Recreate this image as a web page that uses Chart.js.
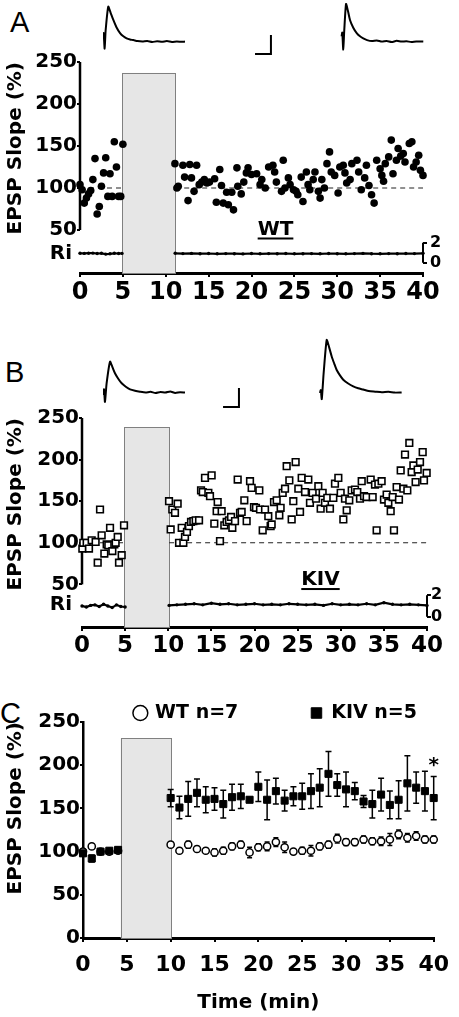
<!DOCTYPE html>
<html>
<head>
<meta charset="utf-8">
<script src="https://cdn.jsdelivr.net/npm/chart.js@4/dist/chart.umd.min.js"></script>
<style>
  html, body { margin:0; padding:0; background:#fff; }
  body { width:459px; height:1017px; position:relative; overflow:hidden; }
  canvas { position:absolute; }
  .letter { position:absolute; font-family:"Liberation Sans", Arial, sans-serif; font-size:29px; line-height:1; color:#000; }
</style>
</head>
<body>
<div class="letter" style="left:10px;top:8px">A</div>
<div class="letter" style="left:5px;top:358px">B</div>
<div class="letter" style="left:0px;top:699px">C</div>

<canvas id="traceA" width="328" height="60" style="left:103px;top:0px"></canvas>
<canvas id="chartA" width="459" height="280" style="left:0px;top:30px"></canvas>
<canvas id="traceB" width="328" height="80" style="left:103px;top:330px"></canvas>
<canvas id="chartB" width="459" height="260" style="left:0px;top:400px"></canvas>
<canvas id="chartC" width="459" height="357" style="left:0px;top:660px"></canvas>

<script>
// ---------- A: WT slice, EPSP slope (%) vs time (min) ----------
const wtTime = [0,0.25,0.5,0.75,1,1.25,1.5,1.75,2,2.25,2.5,2.75,3,3.25,3.5,3.75,4,4.25,4.5,4.75,5,
  11.07,11.3,11.46,12.0,12.2,12.6,12.8,13.0,13.3,13.6,13.9,14.2,14.5,14.8,15.1,15.7,15.9,16.3,16.5,16.7,
  17.1,17.3,17.7,17.9,18.3,18.4,18.8,19.1,19.4,19.6,20.0,20.6,21.0,21.2,21.6,22.0,22.5,22.7,22.9,23.5,
  23.7,23.9,24.3,24.5,24.9,25.2,25.4,25.8,26.0,26.4,26.6,26.8,27.2,27.4,27.8,28.0,28.2,28.5,28.8,29.1,
  29.3,29.7,30.1,30.3,30.7,30.9,31.1,31.5,31.7,32.3,32.5,32.8,33.2,33.4,33.7,34.0,34.3,34.6,35.0,35.2,
  35.4,35.6,36.0,36.3,36.5,36.9,37.1,37.4,37.7,37.9,38.4,38.7,38.9,39.2,39.5,39.7,40.0];
const wtSlope = [104,98,82,88,93,97,110,135,69,78,102,118,136,90,117,90,155,125,90,90,152,
  129,100,102,127,113,85,128,112,96,127,104,107,110,106,107,111,83,122,103,82,
  95,80,95,74,124,102,93,107,118,124,116,117,104,110,100,125,127,119,107,96,
  133,100,112,104,98,96,92,113,84,119,104,98,110,119,96,88,110,100,129,143,
  119,115,94,125,127,118,106,110,129,133,119,98,112,127,103,92,82,133,123,115,
  108,129,137,157,117,133,147,138,141,131,153,155,125,131,139,121,115];
const riTimeA = [0,0.5,1,1.5,2,2.5,3,3.5,4,4.5,4.9, 8,
  11.1,12,13,14,15,16,17,18,19,20,21,22,23,24,25,26,27,28,29,30,31,32,33,34,35,36,37,38,39,40];
const riA = [0.95,0.94,0.96,0.97,0.93,0.95,0.87,0.9,0.95,0.93,0.94, null,
  0.95,0.92,0.94,0.91,0.93,0.9,0.92,0.91,0.89,0.93,0.9,0.92,0.91,0.93,0.9,0.91,0.92,0.9,0.93,0.91,
  0.9,0.92,0.94,0.91,0.9,0.92,0.91,0.93,0.92,0.95];
const stimA = [4.9, 11.1, 237];   // induction window (min) and box height (%)

// ---------- B: KIV slice ----------
const kivTime = [0.04,0.15,0.54,0.81,1.12,1.58,1.82,2.09,2.28,2.59,2.86,3.05,3.25,3.52,3.75,3.9,4.14,4.29,4.6,4.87,
  10.09,10.28,10.47,10.78,11.09,11.25,11.56,11.75,11.94,12.17,12.4,12.64,12.91,13.18,13.57,13.8,14.0,14.26,
  14.65,14.84,15.03,15.34,15.61,15.73,16.0,16.19,16.5,16.77,17.04,17.28,17.43,17.74,18.05,18.32,18.51,18.82,
  19.09,19.48,19.67,19.94,20.17,20.56,20.64,20.95,21.22,21.6,21.87,21.99,22.26,22.57,22.88,23.03,23.27,23.54,
  23.73,24.04,24.31,24.5,24.77,25.08,25.28,25.47,25.86,26.24,26.43,26.74,27.13,27.4,27.67,27.9,28.17,28.44,
  28.75,29.14,29.33,29.72,29.99,30.3,30.49,30.69,30.99,31.27,31.65,31.92,32.23,32.43,32.7,33.0,33.47,33.7,
  33.97,34.16,34.36,34.74,35.01,35.32,35.52,35.79,36.02,36.17,36.48,36.75,36.95,37.26,37.45,37.72,37.95,
  38.22,38.42,38.68,38.92,39.19,39.5,39.65,39.96];
const kivSlope = [93,100,100,93,103,101,76,140,109,87,98,97,118,90,98,100,107,76,85,121,
  150,116,140,136,147,100,118,100,107,113,120,125,126,127,127,163,161,178,
  160,156,181,123,138,149,102,138,121,125,127,131,118,126,176,136,137,151,
  126,174,166,143,142,163,140,115,140,132,120,122,149,151,133,142,160,165,
  192,175,128,150,197,165,137,178,161,176,148,160,153,168,141,160,148,154,
  141,154,171,178,160,128,153,139,151,163,164,161,153,174,156,155,176,155,
  170,115,171,174,152,158,148,138,155,115,167,152,187,165,206,163,220,
  185,193,173,188,197,209,175,184];
const riTimeB = [0,0.5,1,1.5,2,2.5,3,3.5,4,4.5,5, 7.5,
  10.1,11,12,13,14,15,16,17,18,19,20,21,22,23,24,25,26,27,28,29,30,31,32,33,34,35,36,37,38,39,40];
const riB = [1.0,0.9,1.05,1.1,0.95,1.15,1.0,0.85,1.1,0.95,0.9, null,
  1.05,1.1,1.15,1.2,1.1,1.25,1.15,1.2,1.1,1.15,1.2,1.1,1.15,1.1,1.2,1.15,1.1,1.15,1.05,1.2,1.1,
  1.15,1.1,1.2,1.1,1.3,1.15,1.1,1.15,1.1,1.05];
const stimB = [4.9, 10.1, 239];

// ---------- C: group means +/- SEM ----------
const meanTime = [0,1,2,3,4,10,11,12,13,14,15,16,17,18,19,20,21,22,23,24,25,26,27,28,29,30,31,32,33,34,35,36,37,38,39,40];
const wtMean = [100,106,100,100,101,108,101,108,103,101,99,101,106,108,99,105,106,111,105,100,101,101,106,108,115,111,111,114,112,112,114,120,116,118,114,114];
const wtSem  = [3,3,2,2,2,3,3,4,3,3,4,4,4,4,6,4,5,5,6,3,4,6,4,4,5,4,4,4,4,5,7,5,5,5,4,4];
const kivMean = [98,92,100,101,102,162,151,161,168,160,161,155,163,164,160,175,160,170,159,164,164,170,174,190,177,172,170,158,155,166,154,160,179,174,170,162];
const kivSem  = [3,4,3,2,3,10,13,20,16,15,13,16,15,14,3,17,23,15,12,11,15,20,22,26,13,20,10,7,16,19,16,22,32,18,23,25];
const stimC = [4.3, 10.05, 231];

const slopeTicks = [50,100,150,200,250];
const riTicks = [0,2];
const baselinePct = 100;

// ---------- example sweeps (ms, mV) ----------
const traceA1T = [0,0.4,1.0,1.6,3.2,4.6,6.3,8.2,10.4,12.4,14.4,16.5,18.5,21,24,27,30,33,36,39,42,45,48,50];
const traceA1V = [0.3,0.47,-0.35,0.6,1.86,1.55,1.16,0.78,0.47,0.3,0.19,0.13,0.1,0.05,0.03,0.05,0.0,0.04,0.01,0.05,0.0,0.03,0.01,0.02];
const traceA2T = [145.5,145.9,146.5,147.1,148.2,149.4,150.6,152.6,154.7,156.7,158.7,161,164,167,170,173,176,179,182,185,188,191,195.3];
const traceA2V = [0.3,0.5,-0.4,0.6,2.0,1.62,1.16,0.75,0.47,0.3,0.19,0.1,0.05,0.08,0.02,0.05,0.0,0.06,0.02,0.04,0.0,0.03,0.02];
const barAT = [92.7,102.4,102.4];
const barAV = [-0.63,-0.63,0.37];
const traceB1T = [0,0.6,1.2,2.2,4.3,5.8,7.3,9.3,11.4,13.9,16.5,19.5,22.6,26,29,32,35,38,41,44,47,50];
const traceB1V = [-0.1,0.2,-0.47,0.5,1.65,1.35,1.04,0.75,0.51,0.33,0.19,0.12,0.07,0.03,0.06,0.0,0.05,0.02,0.08,0.0,0.04,0.02];
const traceB2T = [132.3,132.8,133.4,134.5,136.4,137.9,139.5,141,142.5,144.5,146.5,149.5,152.6,155.6,158.7,162,166,170,174,178,182.1];
const traceB2V = [0.0,0.15,-0.32,1.0,2.79,2.4,1.91,1.55,1.21,0.93,0.7,0.5,0.35,0.25,0.18,0.1,0.07,0.04,0.06,0.02,0.03];
const barBT = [73.2,82.9,82.9];
const barBV = [-0.74,-0.74,0.26];

Chart.defaults.font.family = '"DejaVu Sans", sans-serif';
Chart.defaults.color = '#000';

const pts = (xs, ys) => xs.map((x, i) => ({ x, y: ys[i] }));
const fixedTicks = vals => s => { s.ticks = vals.map(v => ({ value: v })); };

// draws the induction box, error bars, partial axis lines and in-plot labels
function decor(cfg) {
  return {
    id: 'decor',
    beforeDatasetsDraw(chart) {
      const { ctx, chartArea, scales } = chart;
      const xs = scales.x, ys = scales.y;
      ctx.save();
      if (cfg.stim) {
        const x0 = xs.getPixelForValue(cfg.stim[0]), x1 = xs.getPixelForValue(cfg.stim[1]);
        const y0 = ys.getPixelForValue(cfg.stim[2]);
        ctx.fillStyle = '#e6e6e6';
        ctx.fillRect(x0, y0, x1 - x0, chartArea.bottom - y0);
        ctx.strokeStyle = '#808080'; ctx.lineWidth = 1;
        ctx.strokeRect(Math.round(x0) + 0.5, Math.round(y0) + 0.5, Math.round(x1 - x0), chartArea.bottom - Math.round(y0));
      }
      (cfg.errors || []).forEach(e => {
        ctx.strokeStyle = '#000'; ctx.lineWidth = 1.5;
        e.time.forEach((t, i) => {
          const x = xs.getPixelForValue(t);
          const hi = ys.getPixelForValue(e.mean[i] + e.sem[i]);
          const lo = ys.getPixelForValue(e.mean[i] - e.sem[i]);
          ctx.beginPath();
          ctx.moveTo(x, hi); ctx.lineTo(x, lo);
          ctx.moveTo(x - e.cap, hi); ctx.lineTo(x + e.cap, hi);
          ctx.moveTo(x - e.cap, lo); ctx.lineTo(x + e.cap, lo);
          ctx.stroke();
        });
      });
      (cfg.spans || []).forEach(s => {
        const sc = scales[s.axis];
        const x = s.axis === 'y' ? sc.right : sc.left;
        ctx.strokeStyle = '#000'; ctx.lineWidth = s.width;
        ctx.beginPath();
        ctx.moveTo(x, sc.getPixelForValue(s.from));
        ctx.lineTo(x, sc.getPixelForValue(s.to));
        ctx.stroke();
      });
      ctx.restore();
    },
    afterDatasetsDraw(chart) {
      const { ctx, scales } = chart;
      ctx.save();
      (cfg.texts || []).forEach(t => {
        const px = scales.x.getPixelForValue(t.x);
        const py = scales[t.axis || 'y'].getPixelForValue(t.y);
        ctx.font = 'bold ' + t.size + 'px "DejaVu Sans"';
        ctx.fillStyle = '#000';
        ctx.textAlign = t.align || 'center';
        ctx.textBaseline = 'middle';
        ctx.fillText(t.text, px, py);
        if (t.underline) {
          const w = ctx.measureText(t.text).width;
          ctx.fillRect(px - w / 2, py + 8, w, 2);
        }
      });
      ctx.restore();
    }
  };
}

function traceChart(id, yMin, yMax, series) {
  return new Chart(document.getElementById(id), {
    type: 'scatter',
    data: {
      datasets: series.map(s => ({
        data: pts(s[0], s[1]), showLine: true, borderColor: '#000', borderWidth: 2,
        pointRadius: 0, tension: s[2], clip: false
      }))
    },
    options: {
      responsive: false, animation: false,
      layout: { padding: 0 },
      plugins: { legend: { display: false }, tooltip: { enabled: false } },
      scales: {
        x: { type: 'linear', display: false, min: 0, max: 200, bounds: 'data' },
        y: { display: false, min: yMin, max: yMax, bounds: 'data' }
      }
    }
  });
}

function slopePanel(id, o) {
  const baseT = [0, o.stim[0], o.stim[0], o.stim[1], 40];
  const baseV = [baselinePct, baselinePct, null, baselinePct, baselinePct];
  return new Chart(document.getElementById(id), {
    type: 'scatter',
    data: {
      datasets: [
        Object.assign({ label: o.label, data: pts(o.time, o.slope), clip: false }, o.marker),
        { label: 'Ri', data: pts(o.riTime, o.ri), yAxisID: 'y2', showLine: true, spanGaps: false,
          borderColor: '#000', borderWidth: 2.2, pointRadius: 1.7, pointBackgroundColor: '#000',
          pointBorderWidth: 0, clip: false },
        { label: 'baseline', data: pts(baseT, baseV), showLine: true, spanGaps: false,
          borderColor: '#222', borderWidth: 1.2, borderDash: [5, 4], pointRadius: 0 }
      ]
    },
    plugins: [decor({
      stim: o.stim,
      spans: [{ axis: 'y', from: 50, to: 250, width: 2.5 }, { axis: 'y2', from: 0, to: 2, width: 2 }],
      texts: o.texts
    })],
    options: {
      responsive: false, animation: false,
      layout: { padding: { top: o.padTop, left: 0, right: 0, bottom: 0 } },
      plugins: { legend: { display: false }, tooltip: { enabled: false } },
      scales: {
        x: {
          type: 'linear', min: 0, max: 40, bounds: 'data',
          ticks: { stepSize: 5, font: { size: o.xFont, weight: 'bold' }, padding: 1, maxRotation: 0, autoSkip: false },
          grid: { drawOnChartArea: false, tickLength: 4, color: '#000', lineWidth: 2 },
          border: { display: true, color: '#000', width: 3 },
          afterFit: s => { s.height = o.xHeight; }
        },
        y: {
          min: o.yMin, max: 250, bounds: 'data',
          afterBuildTicks: fixedTicks(slopeTicks),
          ticks: { font: { size: 20, weight: 'bold' }, padding: 0 },
          grid: { drawOnChartArea: false, tickLength: 3, color: '#000', lineWidth: 2 },
          border: { display: false },
          title: { display: true, text: 'EPSP Slope (%)', align: 'end', font: { size: 20, weight: 'bold' }, padding: { top: 4, bottom: 0 } },
          afterFit: s => { s.width = o.yWidth; }
        },
        y2: {
          position: 'right', min: o.riMin, max: o.riMax, bounds: 'data',
          afterBuildTicks: fixedTicks(riTicks),
          ticks: { font: { size: 16, weight: 'bold' }, padding: o.riPad },
          grid: { drawOnChartArea: false, tickLength: 4, color: '#000', lineWidth: 2 },
          border: { display: false },
          afterFit: s => { s.width = o.y2Width; }
        }
      }
    }
  });
}

traceChart('traceA', -0.947, 2.21, [[traceA1T, traceA1V, 0.2], [traceA2T, traceA2V, 0.2], [barAT, barAV, 0]]);
traceChart('traceB', -0.895, 3.316, [[traceB1T, traceB1V, 0.2], [traceB2T, traceB2V, 0.2], [barBT, barBV, 0]]);

slopePanel('chartA', {
  label: 'WT', time: wtTime, slope: wtSlope, riTime: riTimeA, ri: riA, stim: stimA,
  marker: { pointStyle: 'circle', pointRadius: 3.8, backgroundColor: '#000', borderColor: '#000', borderWidth: 0 },
  padTop: 32, xHeight: 37, yWidth: 80, y2Width: 36, yMin: -1.19, riMin: -1.02, riMax: 20.08, riPad: 3, xFont: 24,
  texts: [
    { text: 'Ri', x: -0.93, y: 0.9, axis: 'y2', align: 'right', size: 20 },
    { text: 'WT', x: 22.8, y: 50.6, size: 20, underline: true }
  ]
});

slopePanel('chartB', {
  label: 'KIV', time: kivTime, slope: kivSlope, riTime: riTimeB, ri: riB, stim: stimB,
  marker: { pointStyle: 'rect', pointRadius: 4.7, backgroundColor: '#fff', borderColor: '#000', borderWidth: 1.6 },
  padTop: 18, xHeight: 33, yWidth: 82, y2Width: 32, yMin: -1.26, riMin: -0.95, riMax: 18.4, riPad: 0, xFont: 23,
  texts: [
    { text: 'Ri', x: -1.16, y: 1.1, axis: 'y2', align: 'right', size: 20 },
    { text: 'KIV', x: 27.65, y: 55.2, size: 20, underline: true }
  ]
});

new Chart(document.getElementById('chartC'), {
  type: 'scatter',
  data: {
    datasets: [
      { label: 'WT n=7', data: pts(meanTime, wtMean), pointStyle: 'circle', pointRadius: 3.6,
        backgroundColor: '#fff', borderColor: '#000', borderWidth: 1.5, clip: false },
      { label: 'KIV n=5', data: pts(meanTime, kivMean), pointStyle: 'rect', pointRadius: 5,
        backgroundColor: '#000', borderColor: '#000', borderWidth: 1, order: -1, clip: false }
    ]
  },
  plugins: [decor({
    stim: stimC,
    errors: [
      { time: meanTime, mean: wtMean, sem: wtSem, cap: 2.5 },
      { time: meanTime, mean: kivMean, sem: kivSem, cap: 3 }
    ],
    texts: [{ text: '*', x: 40, y: 199, size: 20 }]
  })],
  options: {
    responsive: false, animation: false,
    layout: { padding: { top: 23.5, left: 0, right: 22, bottom: 0 } },
    plugins: {
      tooltip: { enabled: false },
      legend: {
        display: true, position: 'top', align: 'end', maxHeight: 38.5,
        labels: {
          usePointStyle: true, boxWidth: 10.5, boxHeight: 10.5, padding: 20, color: '#000',
          font: { size: 19, weight: 'bold' },
          generateLabels(chart) {
            // keep WT first in the key even though KIV is drawn on top
            const items = Chart.defaults.plugins.legend.labels.generateLabels(chart)
              .sort((a, b) => a.datasetIndex - b.datasetIndex);
            items[0].text += '        ';
            return items;
          }
        }
      }
    },
    scales: {
      x: {
        type: 'linear', min: 0, max: 40, bounds: 'data',
        ticks: { stepSize: 5, font: { size: 22, weight: 'bold' }, padding: 10, maxRotation: 0, autoSkip: false },
        grid: { drawOnChartArea: false, tickLength: 4, color: '#000', lineWidth: 2 },
        border: { display: true, color: '#000', width: 3 },
        title: { display: true, text: 'Time (min)', font: { size: 20, weight: 'bold' }, padding: { top: 0, bottom: 2 } },
        afterFit: s => { s.height = 79; }
      },
      y: {
        min: 0, max: 250, bounds: 'data',
        ticks: { stepSize: 50, font: { size: 20, weight: 'bold' }, padding: 0 },
        grid: { drawOnChartArea: false, tickLength: 3, color: '#000', lineWidth: 2 },
        border: { display: true, color: '#000', width: 2.5 },
        title: { display: true, text: 'EPSP Slope (%)', align: 'end', font: { size: 20, weight: 'bold' }, padding: { top: 4, bottom: 0 } },
        afterFit: s => { s.width = 83; }
      }
    }
  }
});
</script>
</body>
</html>
